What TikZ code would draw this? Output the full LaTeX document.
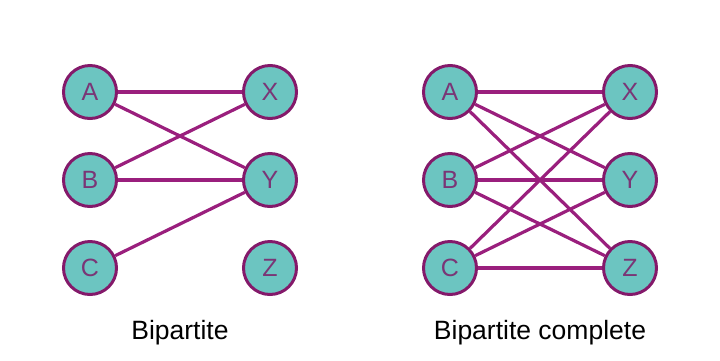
\documentclass[tikz,border=0pt]{standalone}
\usepackage{fontspec}
\setmainfont{Liberation Sans}
\definecolor{tealfill}{HTML}{6CC5C1}
\definecolor{ringcol}{HTML}{84196A}
\definecolor{edgecol}{HTML}{9A1F7D}
\definecolor{lettercol}{HTML}{7A3676}
\begin{document}
\begin{tikzpicture}[x=1pt,y=-1pt,
  vert/.style={circle,draw=ringcol,line width=3pt,fill=tealfill,minimum size=53pt,inner sep=0pt,text=lettercol,font=\fontsize{25}{25}\selectfont},
  link/.style={draw=edgecol,line width=3.2pt},
  caption/.style={font=\fontsize{26.5}{26.5}\selectfont,text=black}]
\useasboundingbox (0,0) rectangle (720,360);
% left graph
\node[vert] (A1) at (90,92) {A};
\node[vert] (B1) at (90,180) {B};
\node[vert] (C1) at (90,268) {C};
\node[vert] (X1) at (270,92) {X};
\node[vert] (Y1) at (270,180) {Y};
\node[vert] (Z1) at (270,268) {Z};
\draw[link] (A1) -- (X1);
\draw[link] (A1) -- (Y1);
\draw[link] (B1) -- (X1);
\draw[link] (B1) -- (Y1);
\draw[link] (C1) -- (Y1);
% right graph
\node[vert] (A2) at (450,92) {A};
\node[vert] (B2) at (450,180) {B};
\node[vert] (C2) at (450,268) {C};
\node[vert] (X2) at (630,92) {X};
\node[vert] (Y2) at (630,180) {Y};
\node[vert] (Z2) at (630,268) {Z};
\foreach \l in {A2,B2,C2}{
  \foreach \r in {X2,Y2,Z2}{
    \draw[link] (\l) -- (\r);
  }
}
\node[caption] (cap1) at (180,333) {Bipartite};
\node[caption] (cap2) at (540,333) {Bipartite complete};
\end{tikzpicture}
\end{document}
